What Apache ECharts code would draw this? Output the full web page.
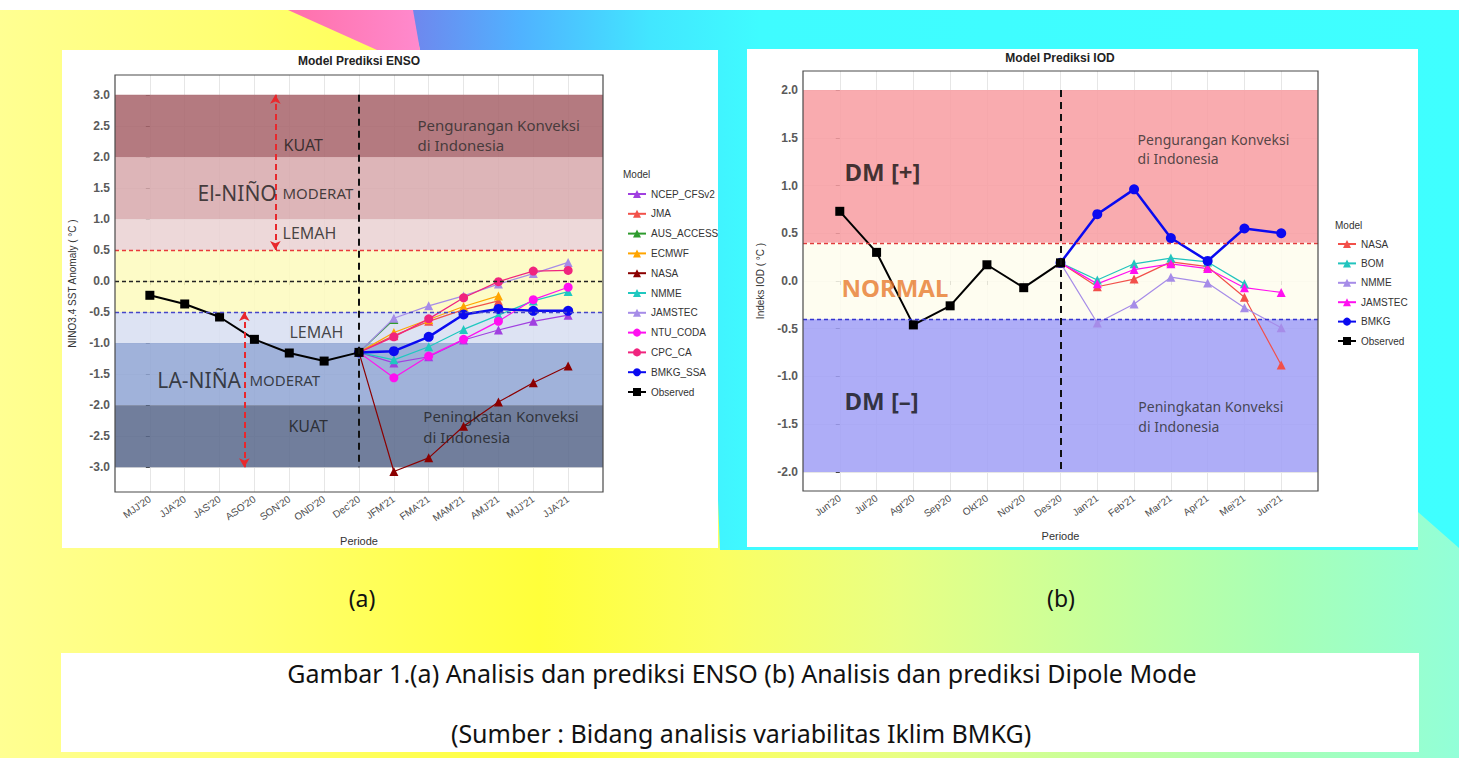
<!DOCTYPE html>
<html><head><meta charset="utf-8">
<script src="https://cdn.jsdelivr.net/npm/echarts@6/dist/echarts.min.js"></script>
<style>
html,body{margin:0;padding:0;background:#fff;overflow:hidden}
#wrap{position:relative;width:1459px;height:758px;}
.l{position:absolute;}
#base{left:0;top:10px;width:1459px;height:748px;background:linear-gradient(90deg,#FFFF92 0px,#FFFF70 250px,#FFFF3a 540px,#FBFF62 720px,#E8FF84 900px,#C6FF9C 1100px,#A8FFB6 1280px,#92FFD8 1459px);}
#cyan{left:0;top:0;width:1459px;height:758px;background:linear-gradient(90deg,#6E88EE 0px,#6E88EE 415px,#50B2FF 520px,#42E6FF 650px,#3FFCFF 760px,#3FFFFF 1459px);clip-path:polygon(410px 10px,1459px 10px,1459px 548px,1418px 512px,1418px 550px,720px 550px,700px 50px,420px 50px);}
#pink{left:0;top:0;width:1459px;height:758px;background:linear-gradient(90deg,#FF6EA8 280px,#FF8ACD 420px);clip-path:polygon(288px 10px,413px 10px,420px 50px,377px 50px);}
.w{background:#fff;}
#c{position:absolute;left:0;top:0;width:1459px;height:758px;}
</style>
</head><body>
<div id="wrap">
<div class="l" id="base"></div>
<div class="l" id="cyan"></div>
<div class="l" id="pink"></div>
<div class="l w" style="left:62px;top:50px;width:656px;height:498px"></div>
<div class="l w" style="left:747px;top:49px;width:671px;height:498px"></div>
<div class="l w" style="left:61px;top:653px;width:1358px;height:99px"></div>
<div id="c"></div>
</div>
<script>
// ---------------- DATA ----------------
const ensoPeriods = ["MJJ'20","JJA'20","JAS'20","ASO'20","SON'20","OND'20","Dec'20","JFM'21","FMA'21","MAM'21","AMJ'21","MJJ'21","JJA'21"];
const ensoYTicks = [-3,-2.5,-2,-1.5,-1,-0.5,0,0.5,1,1.5,2,2.5,3];
const ensoObserved  = [-0.23,-0.37,-0.58,-0.94,-1.16,-1.29,-1.15,null,null,null,null,null,null];
const ensoNCEP      = [null,null,null,null,null,null,-1.15,-1.32,-1.22,-0.95,-0.79,-0.65,-0.55];
const ensoJMA       = [null,null,null,null,null,null,-1.15,-0.88,-0.65,-0.46,-0.32,null,null];
const ensoAUS       = [null,null,null,null,null,null,-1.15,-0.62,null,null,null,null,null];
const ensoECMWF     = [null,null,null,null,null,null,-1.15,-0.83,-0.62,-0.41,-0.24,null,null];
const ensoNASA      = [null,null,null,null,null,null,-1.15,-3.07,-2.85,-2.34,-1.95,-1.64,-1.37];
const ensoNMME      = [null,null,null,null,null,null,-1.15,-1.27,-1.06,-0.78,-0.55,-0.32,-0.17];
const ensoJAMSTEC   = [null,null,null,null,null,null,-1.15,-0.60,-0.40,-0.24,-0.05,0.12,0.30];
const ensoNTU       = [null,null,null,null,null,null,-1.15,-1.56,-1.21,-0.94,-0.65,-0.30,-0.10];
const ensoCPC       = [null,null,null,null,null,null,-1.15,-0.90,-0.61,-0.27,-0.01,0.16,0.17];
const ensoBMKG      = [null,null,null,null,null,null,-1.15,-1.13,-0.90,-0.54,-0.45,-0.48,-0.48];

const iodPeriods = ["Jun'20","Jul'20","Agt'20","Sep'20","Okt'20","Nov'20","Des'20","Jan'21","Feb'21","Mar'21","Apr'21","Mei'21","Jun'21"];
const iodYTicks = [-2,-1.5,-1,-0.5,0,0.5,1,1.5,2];
const iodObserved = [0.73,0.30,-0.46,-0.26,0.17,-0.07,0.19,null,null,null,null,null,null];
const iodNASA     = [null,null,null,null,null,null,0.19,-0.06,0.02,0.20,0.15,-0.17,-0.88];
const iodBOM      = [null,null,null,null,null,null,0.19,0.01,0.18,0.24,0.20,-0.03,null];
const iodNMME     = [null,null,null,null,null,null,0.19,-0.44,-0.24,0.04,-0.02,-0.28,-0.49];
const iodJAMSTEC  = [null,null,null,null,null,null,0.19,-0.03,0.12,0.18,0.13,-0.07,-0.12];
const iodBMKG     = [null,null,null,null,null,null,0.19,0.70,0.96,0.45,0.21,0.55,0.50];

// category bands and thresholds
const ensoBands = [[2,3],[1,2],[0.5,1],[-0.5,0.5],[-1,-0.5],[-2,-1],[-3,-2]];
const ensoThresholds = [0.5,0,-0.5];
const iodBands = [[0.4,2],[-0.4,0.4],[-2,-0.4]];
const iodThresholds = [0.4,-0.4];

// ---------------- STYLE ----------------
const FONT = '"Liberation Sans", Arial, sans-serif';
const NOTO = '"Noto Sans", "DejaVu Sans", sans-serif';
const ensoBandColors = ['#B47A80','#DDB5B8','#EDD8D9','#FDFBC7','#DDE3F3','#A0B2DA','#717E9C'];
const ensoThrColors = ['#E8383C','#222222','#4646C8'];
const iodBandColors = ['#F9ABAF','#FEFDF0','#AEADF7'];
const iodThrColors = ['#E23C3C','#3434D0'];

function overWhite(hex, a){
  const n=parseInt(hex.slice(1),16), r=n>>16, g=(n>>8)&255, b=n&255;
  const f=c=>Math.max(0,Math.min(255,Math.round((c-255*(1-a))/a)));
  return 'rgba('+f(r)+','+f(g)+','+f(b)+','+a+')';
}
const pts = arr => arr.map((v,i)=> v==null?null:[i,v]).filter(p=>p);

function mkLine(name, arr, color, symbol, gi, width, size, z){
  return {type:'line', name:name, xAxisIndex:gi, yAxisIndex:gi, data:pts(arr),
    symbol:symbol, symbolSize:size||9, showSymbol:true, z:z||3,
    lineStyle:{color:color,width:width||1.2}, itemStyle:{color:color},
    emphasis:{disabled:true}, animation:false};
}

const ensoSeries = [
  mkLine('NCEP_CFSv2', ensoNCEP, '#A040E0','triangle',0),
  mkLine('JMA', ensoJMA, '#F2524A','triangle',0),
  mkLine('AUS_ACCESS', ensoAUS, '#2E9B2E','triangle',0),
  mkLine('ECMWF', ensoECMWF, '#FFA500','triangle',0),
  mkLine('NASA', ensoNASA, '#8B0000','triangle',0),
  mkLine('NMME', ensoNMME, '#20C8C0','triangle',0),
  mkLine('JAMSTEC', ensoJAMSTEC, '#A68CE8','triangle',0),
  mkLine('NTU_CODA', ensoNTU, '#FF10F0','circle',0),
  mkLine('CPC_CA', ensoCPC, '#F0247E','circle',0),
  mkLine('BMKG_SSA', ensoBMKG, '#0A0AF0','circle',0,2.5,10),
  mkLine('Observed', ensoObserved, '#000000','rect',0,2,9,4)
];
const IODP = 'IOD ';
const iodSeries = [
  mkLine(IODP+'NASA', iodNASA, '#F2504A','triangle',1),
  mkLine(IODP+'BOM', iodBOM, '#22C4BE','triangle',1),
  mkLine(IODP+'NMME', iodNMME, '#A68CE8','triangle',1),
  mkLine(IODP+'JAMSTEC', iodJAMSTEC, '#FF10F0','triangle',1),
  mkLine(IODP+'BMKG', iodBMKG, '#0A0AF0','circle',1,2.5,10),
  mkLine(IODP+'Observed', iodObserved, '#000000','rect',1,2,9,4)
];

function bandSeries(gi, bands, colors){
  return {type:'line', data:[], xAxisIndex:gi, yAxisIndex:gi, z:1, silent:true, animation:false,
    markArea:{silent:true, data: bands.map((b,i)=>[{yAxis:b[0], itemStyle:{color:overWhite(colors[i],0.85)}},{yAxis:b[1]}])}};
}
function refSeries(gi, thr, colors, vx, vy0, vy1){
  const d = thr.map((t,i)=>({yAxis:t, lineStyle:{color:colors[i], type:[4,3], width:1.3}}));
  d.push([{coord:[vx,vy0], lineStyle:{color:'#111', type:[7,5], width:2}},{coord:[vx,vy1]}]);
  return {type:'line', data:[], xAxisIndex:gi, yAxisIndex:gi, z:2, silent:true, animation:false,
    markLine:{silent:true, symbol:'none', label:{show:false}, animation:false, data:d}};
}
function arrowSeries(gi, arrows){
  return {type:'line', data:[], xAxisIndex:gi, yAxisIndex:gi, z:2, silent:true, animation:false,
    markLine:{silent:true, symbol:['arrow','arrow'], symbolSize:[8,9], label:{show:false}, animation:false,
      lineStyle:{color:'#E8282C', type:[6,4], width:2},
      data: arrows.map(a=>[{coord:[a[0],a[1]]},{coord:[a[0],a[2]]}])}};
}
function textSeries(gi, items){
  return {type:'scatter', xAxisIndex:gi, yAxisIndex:gi, z:5, silent:true, animation:false,
    symbolSize:1, itemStyle:{color:'rgba(0,0,0,0)'},
    data: items.map(t=>({value:[t.x,t.y], label:{show:true, position:[0,0], align:'left', verticalAlign:'middle',
      formatter:t.text, fontSize:t.size, fontWeight:t.bold?'bold':'normal', color:t.color||'#1a1a1a',
      fontFamily:NOTO, lineHeight:t.lh||t.size*1.25}}))};
}

// annotation placements (axis units)
const ensoText = [
  {x:3.85,y:2.19,text:'KUAT',size:16},
  {x:1.38,y:1.41,text:'El-NIÑO',size:21},
  {x:3.82,y:1.41,text:'MODERAT',size:15},
  {x:3.82,y:0.76,text:'LEMAH',size:16},
  {x:4.02,y:-0.83,text:'LEMAH',size:16},
  {x:0.23,y:-1.60,text:'LA-NIÑA',size:21},
  {x:2.87,y:-1.60,text:'MODERAT',size:15},
  {x:3.99,y:-2.35,text:'KUAT',size:16},
  {x:7.69,y:2.34,text:'Pengurangan Konveksi\ndi Indonesia',size:15,color:'#2a2a2a',lh:20},
  {x:7.86,y:-2.35,text:'Peningkatan Konveksi\ndi Indonesia',size:15,color:'#1f1f1f',lh:21}
];
const iodText = [
  {x:0.14,y:1.14,text:'DM [+]',size:24,bold:true,color:'#111'},
  {x:0.06,y:-0.07,text:'NORMAL',size:24,bold:true,color:'#E8782A'},
  {x:0.14,y:-1.26,text:'DM [–]',size:24,bold:true,color:'#111'},
  {x:8.11,y:1.38,text:'Pengurangan Konveksi\ndi Indonesia',size:14,color:'#2a2a2a',lh:19},
  {x:8.13,y:-1.42,text:'Peningkatan Konveksi\ndi Indonesia',size:14,color:'#2a2a2a',lh:20}
];
const ensoArrows = [[3.6,0.5,3.0],[2.71,-0.5,-3.0]];

function xAxis(gi, cats, gap){
  const ticks = cats.map((c,i)=>i);
  return {type:'value', gridIndex:gi, min:-1, max:13, interval:1,
    name:'Periode', nameLocation:'middle', nameGap:gap, nameTextStyle:{fontSize:11,color:'#333',fontFamily:FONT},
    axisLine:{show:false},
    axisTick:{show:true, length:4, customValues:ticks, lineStyle:{color:'#444'}},
    axisLabel:{customValues:ticks, formatter:v=>cats[v]||'', rotate:35, fontSize:10, color:'#4d4d4d', fontFamily:FONT, margin:6},
    splitLine:{show:true, lineStyle:{color:'#E6E6E6', width:1}}};
}
function yAxis(gi, min, max, ticks, name){
  return {type:'value', gridIndex:gi, min:min, max:max,
    name:name, nameLocation:'middle', nameGap:38, nameRotate:90, nameTextStyle:{fontSize:10,color:'#333',fontFamily:FONT},
    axisLine:{show:false},
    axisTick:{show:true, length:4, customValues:ticks, lineStyle:{color:'#444'}},
    axisLabel:{customValues:ticks, formatter:v=>v.toFixed(1), fontSize:12, fontWeight:'bold', color:'#5a5a5a', fontFamily:FONT, margin:5},
    splitLine:{show:true, lineStyle:{color:'#E6E6E6', width:1}}};
}

const chart = echarts.init(document.getElementById('c'), null, {renderer:'svg'});
const legendText = {fontSize:10, color:'#333', fontFamily:FONT};
chart.setOption({
  animation:false,
  backgroundColor:'transparent',
  grid:[
    {left:115, top:75, width:488, height:417, show:true, z:10, backgroundColor:'transparent', borderColor:'#4a4a4a', borderWidth:1.2},
    {left:803, top:71, width:515, height:420, show:true, z:10, backgroundColor:'transparent', borderColor:'#4a4a4a', borderWidth:1.2}
  ],
  xAxis:[xAxis(0, ensoPeriods, 43), xAxis(1, iodPeriods, 39)],
  yAxis:[yAxis(0, -3.4, 3.32, ensoYTicks, 'NINO3.4 SST Anomaly ( °C )'), yAxis(1, -2.2, 2.2, iodYTicks, 'Indeks IOD ( °C )')],
  legend:[
    {orient:'vertical', left:622, top:184, itemWidth:18, itemHeight:10, itemGap:9.8, selectedMode:false, textStyle:legendText,
     data: ensoSeries.map(s=>s.name)},
    {orient:'vertical', left:1332, top:234, itemWidth:18, itemHeight:10, itemGap:9.4, selectedMode:false, textStyle:legendText,
     formatter:n=>n.replace(IODP,''), data: iodSeries.map(s=>s.name)}
  ],
  graphic:[
    {type:'text', x:359, y:61, style:{text:'Model Prediksi ENSO', font:'bold 12px '+FONT, fill:'#222', textAlign:'center', textVerticalAlign:'middle'}},
    {type:'text', x:1060, y:58, style:{text:'Model Prediksi IOD', font:'bold 12px '+FONT, fill:'#222', textAlign:'center', textVerticalAlign:'middle'}},
    {type:'text', x:623, y:174, style:{text:'Model', font:'10px '+FONT, fill:'#333', textVerticalAlign:'middle'}},
    {type:'text', x:1335, y:225, style:{text:'Model', font:'10px '+FONT, fill:'#333', textVerticalAlign:'middle'}},
    {type:'text', x:362, y:598, style:{text:'(a)', font:'23px '+NOTO, fill:'#111', textAlign:'center', textVerticalAlign:'middle'}},
    {type:'text', x:1061, y:598, style:{text:'(b)', font:'23px '+NOTO, fill:'#111', textAlign:'center', textVerticalAlign:'middle'}},
    {type:'text', x:742, y:673, style:{text:'Gambar 1.(a) Analisis dan prediksi ENSO (b) Analisis dan prediksi Dipole Mode', font:'25px '+NOTO, fill:'#111', textAlign:'center', textVerticalAlign:'middle'}},
    {type:'text', x:741, y:733, style:{text:'(Sumber : Bidang analisis variabilitas Iklim BMKG)', font:'25px '+NOTO, fill:'#111', textAlign:'center', textVerticalAlign:'middle'}}
  ],
  series:[
    bandSeries(0, ensoBands, ensoBandColors),
    refSeries(0, ensoThresholds, ensoThrColors, 6, 3.0, -3.0),
    arrowSeries(0, ensoArrows),
    textSeries(0, ensoText),
    bandSeries(1, iodBands, iodBandColors),
    refSeries(1, iodThresholds, iodThrColors, 6, 2.0, -2.0),
    textSeries(1, iodText)
  ].concat(ensoSeries, iodSeries)
});
</script>
</body></html>
